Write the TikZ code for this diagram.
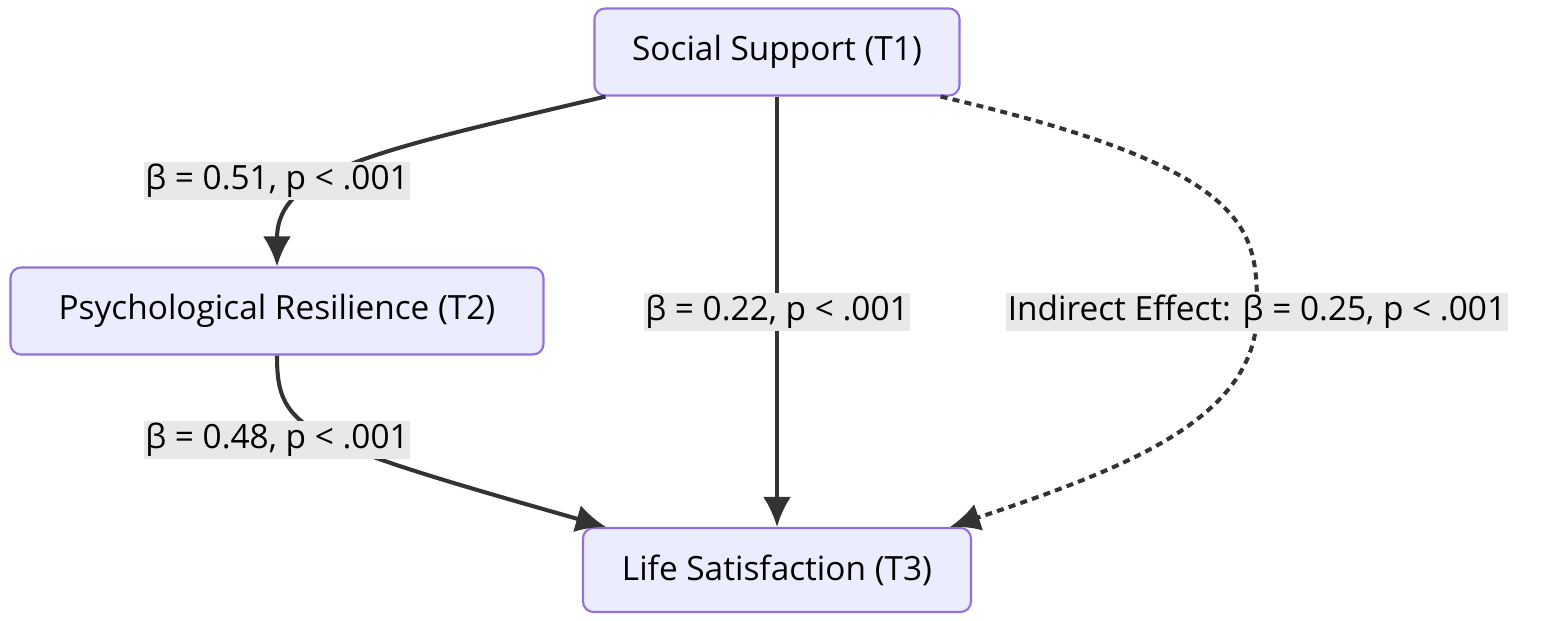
\documentclass[tikz,border=0pt]{standalone}
\usepackage{fontspec}
\setmainfont{Open Sans}
\usetikzlibrary{arrows.meta}
\definecolor{boxfill}{HTML}{ECECFF}
\definecolor{boxline}{HTML}{9370DB}
\definecolor{labelfill}{HTML}{E8E8E8}
\definecolor{edgecol}{HTML}{333333}

\begin{document}
\begin{tikzpicture}[x=0.02cm, y=-0.02cm]
    \tikzset{varbox/.style={draw=boxline, fill=boxfill, line width=1.2pt, rounded corners=6pt,
        inner sep=0pt, font=\fontsize{19}{23}\selectfont}}
    \tikzset{pathlabel/.style={fill=labelfill, inner sep=1pt, font=\fontsize{19}{23}\selectfont}}
    \tikzset{effect/.style={draw=edgecol, line width=2.3pt, -{Latex[length=0.6cm, width=0.56cm]}}}

    \useasboundingbox (0, 0) rectangle (1547, 621);

    \node [varbox, minimum width=365*0.02cm, minimum height=87*0.02cm] (T1) at (777, 52) {Social Support (T1)};
    \node [varbox, minimum width=533*0.02cm, minimum height=87*0.02cm] (T2) at (277, 311) {Psychological Resilience (T2)};
    \node [varbox, minimum width=388*0.02cm, minimum height=84*0.02cm] (T3) at (777, 570) {Life Satisfaction (T3)};

    \draw [effect] ([xshift=12*0.02cm]T1.south west) .. controls (380, 150) and (277, 170) .. (T2.north);
    \draw [effect] (T2.south) .. controls (277, 430) and (300, 440) .. ([xshift=24*0.02cm]T3.north west);
    \draw [effect] (T1.south) -- (T3.north);
    \draw [effect, dash pattern=on 4pt off 3pt] ([xshift=-20*0.02cm]T1.south east)
        .. controls (1257, 170) and (1257, 230) .. (1257, 312)
        .. controls (1257, 420) and (1120, 470) .. ([xshift=-22*0.02cm]T3.north east);

    \node [pathlabel] (L1) at (277, 181) {β = 0.51, p < .001};
    \node [pathlabel] (L2) at (777, 312) {β = 0.22, p < .001};
    \node [pathlabel] (L3) at (1257, 312) {Indirect Effect: β = 0.25, p < .001};
    \node [pathlabel] (L4) at (277, 440) {β = 0.48, p < .001};

\end{tikzpicture}
\end{document}
